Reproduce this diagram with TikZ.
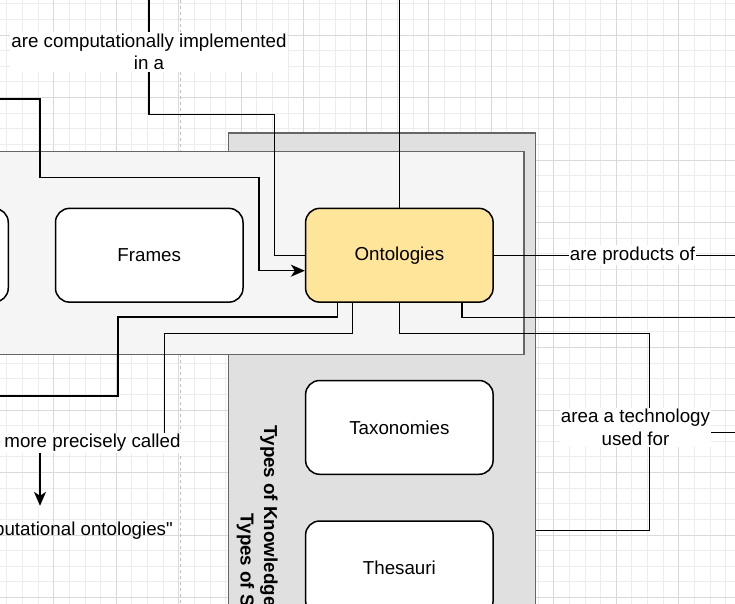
\documentclass[tikz,border=0pt]{standalone}
\usepackage{fontspec}
\setmainfont{Liberation Sans}
\newfontfamily\dfam{Liberation Sans}
\usetikzlibrary{arrows.meta,calc,positioning}
\definecolor{outfill}{HTML}{E0E0E0}
\definecolor{infill}{HTML}{F5F5F5}
\definecolor{frameline}{HTML}{666666}
\definecolor{ontfill}{HTML}{FFE599}
\newcommand{\dfont}{\dfam\fontsize{18.75}{22.5}\selectfont}
\tikzset{
  mgrid/.style={line width=0.8pt,black!7},
  Mgrid/.style={line width=0.9pt,black!15},
  kbox/.style={draw,line width=1.5pt,rounded corners=14pt,fill=white,minimum width=187.5pt,minimum height=93.75pt,font=\dfont},
  lane/.style={draw=frameline,line width=1.5pt,inner sep=0pt},
  lnk/.style={line width=1.5pt},
  tag/.style={fill=white,inner xsep=1pt,inner ysep=1.5pt,font=\dfont,align=center}
}
\begin{document}
\begin{tikzpicture}[x=1pt,y=-1pt]
\useasboundingbox (0,0) rectangle (735,604);
\clip (0,0) rectangle (735,604);
\fill[white] (0,0) rectangle (735,604);
\foreach \i in {0,...,47} \draw[mgrid] ({-8.8+15.625*\i},0) -- ++(0,604);
\foreach \i in {0,...,40} \draw[mgrid] (0,{-27.5+15.625*\i}) -- ++(735,0);
\foreach \i in {0,...,12} \draw[Mgrid] ({-8.8+62.5*\i},0) -- ++(0,604);
\foreach \i in {0,...,10} \draw[Mgrid] (0,{-27.5+62.5*\i}) -- ++(735,0);
\draw[black!25,line width=0.8pt,dash pattern=on 3pt off 3pt] (180,0) -- (180,604);

\node[lane,fill=outfill,anchor=north west,minimum width=307pt,minimum height=490pt] (types) at (227.7,132.3) {};
\node[lane,fill=infill,anchor=north east,minimum width=545pt,minimum height=203pt] (reps) at (524.7,150.7) {};
\node[rotate=-90,anchor=base west,font=\dfont\bfseries] (tk) at (264,422) {Types of Knowledge};
\node[rotate=-90,anchor=base west,font=\dfont\bfseries] (ts) at (240.5,510) {Types of S};

\node[kbox] (prev) at (-85.5,255.25) {};
\node[kbox] (frames) at (149.25,255.25) {Frames};
\node[kbox,fill=ontfill] (ont) at (399.35,255.25) {Ontologies};
\node[kbox] (taxo) at (399.35,427.4) {Taxonomies};
\node[kbox] (thes) at (399.35,567.9) {Thesauri};
\node[font=\dfont,anchor=east,minimum height=48.6pt,inner xsep=1pt] (comp) at (174,530.3) {putational ontologies"};

\coordinate (t1) at (149,-5);
\coordinate (t2) at (399.35,-5);
\coordinate (l1) at (-5,99);
\coordinate (l2) at (-5,396);
\coordinate (r1) at (740,255.25);
\coordinate (r2) at (740,317.7);
\coordinate (r3) at (740,432.7);

\draw[lnk] (t1) -- (149,114.3) -- (274.3,114.3) -- (274.3,255.25) -- (ont.west);
\node[tag] (impl) at (149,52) {are computationally implemented\\in a};
\draw[lnk,-{Stealth[length=14pt,width=12pt,inset=4pt]}] (l1) -- (40,99) -- (40,177.3) -- (259,177.3) -- (259,270.7) -- (ont.west |- 0,270.7);
\draw[lnk] (t2) -- (ont.north);
\draw[lnk] (ont.east) -- (r1);
\node[tag] (prod) at (632.5,255.25) {are products of};
\draw[lnk] (ont.south -| 337.3,0) |- (118,317) |- (l2);
\draw[lnk,-{Stealth[length=14pt,width=12pt,inset=4pt]}] (ont.south -| 352.7,0) |- (164.7,333.7) -- (164.7,443) -- (40,443) -- (comp.north -| 40,0);
\node[tag] (prec) at (92.5,443) {more precisely called};
\draw[lnk] (ont.south) |- (649.3,333.7) -- (649.3,530.3) -- (types.east |- 0,530.3);
\node[tag] (tech) at (635.5,427.5) {area a technology\\used for};
\draw[lnk] (tech.east |- r3) -- (r3);
\draw[lnk] (ont.south -| 462,0) |- (r2);
\end{tikzpicture}
\end{document}
